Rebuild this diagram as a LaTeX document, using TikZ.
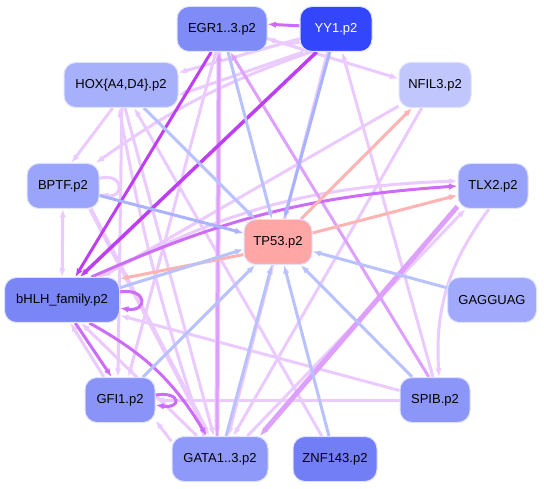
\documentclass[tikz,border=0pt]{standalone}
\usepackage{fontspec}
\setmainfont{Liberation Sans}
\usepackage{tikz}
\usetikzlibrary{arrows.meta}

\definecolor{rim}{RGB}{222,226,255}
\definecolor{cegr}{RGB}{127,140,248}
\definecolor{cyy}{RGB}{52,70,252}
\definecolor{chox}{RGB}{167,176,250}
\definecolor{cnfil}{RGB}{193,198,253}
\definecolor{cbptf}{RGB}{154,164,250}
\definecolor{ctlx}{RGB}{152,162,250}
\definecolor{ctp}{RGB}{255,166,166}
\definecolor{cgag}{RGB}{160,169,251}
\definecolor{cbhlh}{RGB}{122,134,246}
\definecolor{cgfi}{RGB}{138,148,248}
\definecolor{cspib}{RGB}{140,150,249}
\definecolor{cgata}{RGB}{143,153,249}
\definecolor{cznf}{RGB}{114,126,245}
\definecolor{eblue}{RGB}{185,193,255}
\definecolor{eblued}{RGB}{169,179,255}
\definecolor{esal}{RGB}{255,179,179}
\definecolor{elight}{RGB}{235,203,255}
\definecolor{emid}{RGB}{221,160,255}
\definecolor{epur}{RGB}{205,108,248}
\definecolor{edark}{RGB}{190,62,245}

\pgfdeclarelayer{bg}
\pgfdeclarelayer{links}
\pgfsetlayers{bg,links,main}

\begin{document}
\begin{tikzpicture}[x=1pt, y=-1pt,
    tf/.style={draw=rim, line width=1pt, rounded corners=12pt, minimum height=45pt, inner sep=2pt, font=\fontsize{13}{15}\selectfont},
    arrow/.style={-{Latex[length=8.5pt,width=6.5pt]}, line width=3pt},
    dbl/.style={{Latex[length=8.5pt,width=6.5pt]}-{Latex[length=8.5pt,width=6.5pt]}, line width=3pt},
    blu/.style={arrow, draw=eblue},
    sal/.style={arrow, draw=esal},
    lpl/.style={arrow, draw=elight},
    mpl/.style={arrow, draw=emid},
    pur/.style={arrow, draw=epur},
    dpl/.style={arrow, draw=edark}
]
\begin{pgfonlayer}{bg}
\useasboundingbox[fill=white] (0,0) rectangle (544,489);
\end{pgfonlayer}

% factors
\node[tf, fill=cegr, minimum width=90pt] (egr) at (222,29) {EGR1..3.p2};
\node[tf, fill=cyy, minimum width=72pt, text=white] (yy1) at (336,29) {YY1.p2};
\node[tf, fill=chox, minimum width=114pt] (hox) at (121,85) {HOX\{A4,D4\}.p2};
\node[tf, fill=cnfil, minimum width=72pt] (nfil3) at (435,85) {NFIL3.p2};
\node[tf, fill=cbptf, minimum width=72pt] (bptf) at (63,186) {BPTF.p2};
\node[tf, fill=ctlx, minimum width=70pt] (tlx2) at (493,186) {TLX2.p2};
\node[tf, fill=ctp, minimum width=68pt] (tp53) at (278,242) {TP53.p2};
\node[tf, fill=cgag, minimum width=89pt] (gag) at (492,300) {GAGGUAG};
\node[tf, fill=cbhlh, minimum width=115pt] (bhlh) at (62,300) {bHLH\_family.p2};
\node[tf, fill=cgfi, minimum width=70pt] (gfi1) at (120,400) {GFI1.p2};
\node[tf, fill=cspib, minimum width=70pt] (spib) at (435,400) {SPIB.p2};
\node[tf, fill=cgata, minimum width=96pt] (gata) at (220,459) {GATA1..3.p2};
\node[tf, fill=cznf, minimum width=84pt] (znf) at (335,459) {ZNF143.p2};

\begin{pgfonlayer}{links}
% light links
\draw[lpl] (yy1.200) to[bend left=20] (egr.-10);
\draw[lpl] (yy1.195) -- (hox.12);
\draw[lpl] (yy1.215) -- (hox.-10);
\draw[lpl] (hox.-110) -- (bptf.70);
\draw[lpl] (yy1.222) to[bend right=8] (bptf.35);
\draw[lpl] (egr.-12) -- (nfil3.170);
\draw[lpl] (nfil3.-150) -- (bhlh.30);
\draw[lpl] (bptf.12) .. controls +(26,-6) and +(24,6) .. (bptf.-12);
\draw[dbl, draw=elight] (bptf) -- (bhlh);
\draw[lpl] (gfi1.125) -- (bhlh.-70);
\draw[lpl] (gata.160) -- (gfi1.-30);
\draw[lpl] (spib.west) -- (gfi1.east);
\draw[lpl] (spib.165) -- (bhlh.-15);
\draw[lpl] (bhlh.32) to[bend left=13] (tlx2.172);
\draw[lpl] (gata.40) -- (tlx2.-140);
\draw[lpl] (tlx2.-100) to[bend right=20] (spib.80);
\draw[lpl] (spib.95) -- (yy1.-75);
\draw[lpl, line width=5pt] ([xshift=-3pt]egr.south) -- ([xshift=-3pt]gata.north);
\draw[lpl, line width=4.5pt] (bptf.-40) -- (gata.115);
\draw[lpl] (hox.-80) -- (gata.105);
\draw[lpl] (gata.125) to[bend left=4] (hox.-95);
\draw[lpl] (hox.-88) -- (gfi1.95);
\draw[lpl] (egr.-105) -- (gfi1.70);
\draw[lpl] (nfil3.-120) -- (gata.60);
\draw[lpl] (yy1.-110) -- (gata.70);
\draw[lpl] (znf.120) -- (hox.-60);
\draw[lpl] (gata.135) -- (bhlh.-50);

% medium and dark links
\draw[mpl] ([xshift=-3pt]gata.north) -- ([xshift=-3pt]egr.south);
\draw[mpl, line width=5pt] (tlx2.-150) -- (gata.30);
\draw[mpl] (spib.105) -- (egr.-70);
\draw[pur] (yy1.175) -- (egr.6);
\draw[pur] (bhlh.8) .. controls +(28,-4) and +(28,4) .. (bhlh.-8);
\draw[pur] (bhlh.-60) -- (gfi1.110);
\draw[pur] (gfi1.8) .. controls +(26,-4) and +(26,4) .. (gfi1.-8);
\draw[pur] (bhlh.38) to[bend left=10] (tlx2.west);
\draw[pur] (bhlh.-40) to[bend left=15] (gata.120);
\draw[dpl] (egr.-115) -- (bhlh.60);
\draw[dpl, line width=3.5pt] (yy1.-130) -- (bhlh.52);

% TP53 links
\draw[sal] (tp53.200) -- (bhlh.20);
\draw[blu] (bhlh.12) -- (tp53.192);
\draw[blu] (egr) -- (tp53);
\draw[blu, draw=eblued] (yy1) -- (tp53);
\draw[blu] (hox) -- (tp53);
\draw[blu, draw=eblued] (bptf) -- (tp53);
\draw[blu] (gfi1) -- (tp53);
\draw[blu] (gata) -- (tp53);
\draw[blu] (znf) -- (tp53);
\draw[blu] (spib) -- (tp53);
\draw[blu] (gag) -- (tp53);
\draw[sal] (tp53) -- (nfil3);
\draw[sal] (tp53) -- (tlx2);
\end{pgfonlayer}
\end{tikzpicture}
\end{document}
